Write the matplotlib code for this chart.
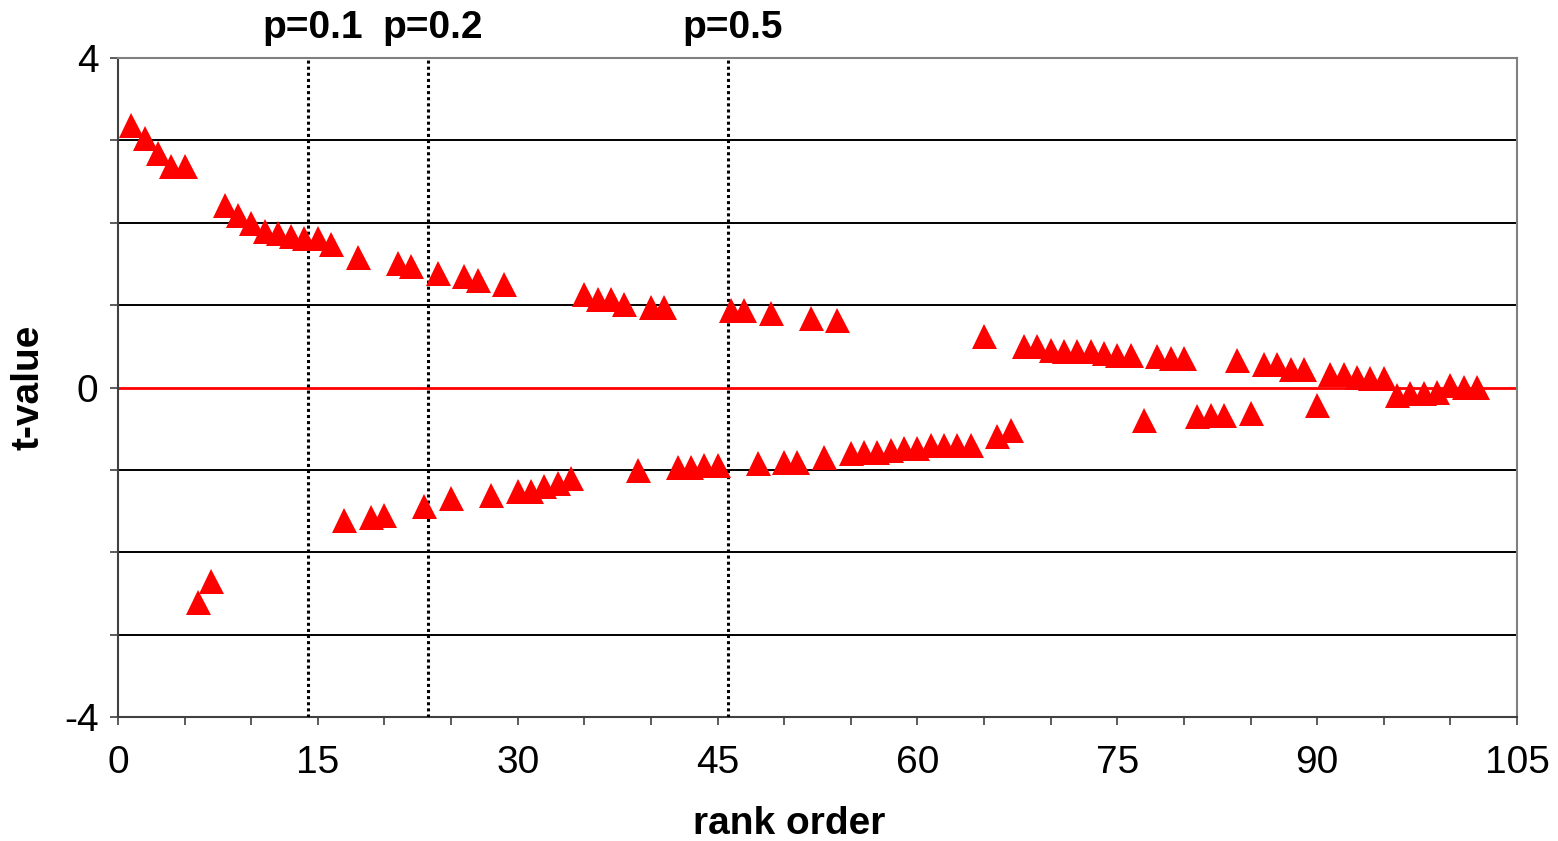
import numpy as np
import matplotlib
matplotlib.use("Agg")
import matplotlib.pyplot as plt
from matplotlib.ticker import MultipleLocator, FuncFormatter
import matplotlib.transforms as mtransforms

plt.rcParams['font.family'] = ['Liberation Sans', 'DejaVu Sans']

# t-values by rank order (rank 1..102)
t_values = [
    3.19, 3.03, 2.85, 2.69, 2.69, -2.60, -2.35, 2.22, 2.09, 2.00,
    1.90, 1.88, 1.84, 1.82, 1.82, 1.74, -1.61, 1.59, -1.57, -1.55,
    1.51, 1.47, -1.44, 1.39, -1.34, 1.35, 1.31, -1.30, 1.26, -1.26,
    -1.26, -1.20, -1.16, -1.10, 1.13, 1.08, 1.08, 1.02, -1.00, 0.98,
    0.98, -0.96, -0.96, -0.94, -0.94, 0.94, 0.94, -0.92, 0.90, -0.90,
    -0.90, 0.84, -0.84, 0.82, -0.80, -0.78, -0.78, -0.76, -0.74, -0.74,
    -0.70, -0.70, -0.70, -0.70, 0.62, -0.59, -0.51, 0.50, 0.50, 0.46,
    0.44, 0.44, 0.44, 0.42, 0.40, 0.40, -0.39, 0.38, 0.36, 0.36,
    -0.35, -0.33, -0.33, 0.33, -0.31, 0.29, 0.28, 0.22, 0.22, -0.21,
    0.17, 0.17, 0.13, 0.11, 0.11, -0.09, -0.07, -0.07, -0.05, 0.03,
    0.01, 0.01,
]
ranks = np.arange(1, len(t_values) + 1)

# significance cut-offs (rank positions)
p_labels = ['p=0.1', 'p=0.2', 'p=0.5']
p_ranks = [14.3, 23.3, 45.8]

fig = plt.figure(figsize=(15.58, 8.41), dpi=100)
ax = fig.add_axes([0.0757, 0.1474, 0.898, 0.7836])

ax.set_xlim(0, 105)
ax.set_ylim(-4, 4)

# horizontal grid lines
for yv in [-3, -2, -1, 1, 2, 3]:
    ax.axhline(yv, color='black', lw=1.4, zorder=1)
ax.axhline(0, color='#ff0000', lw=2.0, zorder=2)

# p cut-off lines
trans = mtransforms.blended_transform_factory(ax.transData, ax.transAxes)
for lab, xr in zip(p_labels, p_ranks):
    ax.axvline(xr, color='black', lw=2.2, linestyle=(0, (1, 1)), zorder=3)
    ax.text(xr + 0.3, 1.03, lab, transform=trans, ha='center', va='baseline',
            fontsize=28, fontweight='bold')

ax.plot(ranks, t_values, linestyle='none', marker='^', markersize=18,
        color='#ff0000', markeredgewidth=0, zorder=4)

ax.xaxis.set_major_locator(MultipleLocator(15))
ax.xaxis.set_minor_locator(MultipleLocator(5))
ax.yaxis.set_major_locator(MultipleLocator(1))
ax.yaxis.set_major_formatter(FuncFormatter(lambda v, p: f'{v:.0f}' if abs(v) in (0, 4) else ''))

ax.tick_params(axis='x', which='both', direction='out', length=6, width=1.2, colors='#404040',
               labelcolor='black', labelsize=28, pad=14)
ax.tick_params(axis='y', direction='out', length=6, width=1.2, colors='#404040',
               labelcolor='black', labelsize=28, pad=8)

for side in ['left', 'bottom']:
    ax.spines[side].set_color('#404040')
    ax.spines[side].set_linewidth(1.5)
for side in ['top', 'right']:
    ax.spines[side].set_color('#808080')
    ax.spines[side].set_linewidth(1.5)

ax.set_xlabel('rank order', fontsize=28, fontweight='bold')
ax.set_ylabel('t-value', fontsize=28, fontweight='bold')
ax.xaxis.set_label_coords(0.48, -0.135)
ax.yaxis.set_label_coords(-0.051, 0.5)

fig.savefig('out.png', dpi=100)
